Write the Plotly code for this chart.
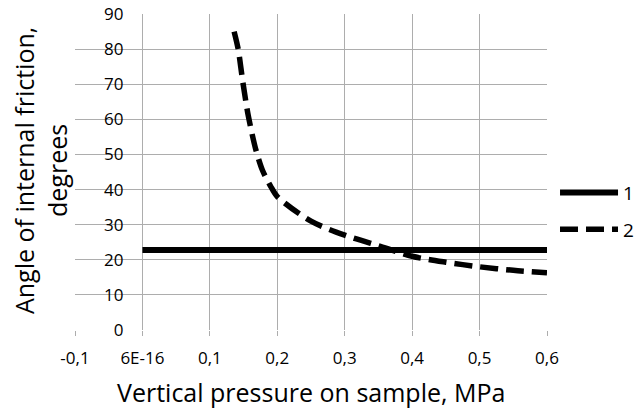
import plotly.graph_objects as go

# Series 1: constant angle
x1 = [0.0, 0.6]
y1 = [22.8, 22.8]

# Series 2: decreasing curve
x2 = [0.136, 0.142, 0.149, 0.157, 0.168, 0.178, 0.190, 0.200, 0.250, 0.300, 0.350, 0.400, 0.450, 0.500, 0.550, 0.600]
y2 = [85.0, 80.0, 70.5, 61.0, 51.5, 45.5, 41.0, 38.0, 31.0, 27.0, 24.0, 21.0, 19.3, 18.0, 17.0, 16.3]

xtick_vals = [-0.1, 0.0, 0.1, 0.2, 0.3, 0.4, 0.5, 0.6]
xtick_text = ["-0,1", "6E-16", "0,1", "0,2", "0,3", "0,4", "0,5", "0,6"]
ytick_vals = [0, 10, 20, 30, 40, 50, 60, 70, 80, 90]

FONT = "Open Sans"
GRID = "#adadad"

fig = go.Figure()
fig.add_trace(go.Scatter(x=x1, y=y1, mode="lines", name="1",
                         line=dict(color="black", width=6), legend="legend"))
fig.add_trace(go.Scatter(x=x2, y=y2, mode="lines", name="2",
                         line=dict(color="black", width=5.5, dash="18px,8px", shape="spline", smoothing=0.8),
                         legend="legend2"))

fig.update_layout(
    width=644, height=409,
    margin=dict(l=75, r=97, t=14, b=79, autoexpand=False),
    paper_bgcolor="white", plot_bgcolor="white",
    font=dict(family=FONT, color="black", size=17),
    xaxis=dict(range=[-0.1, 0.6], tickvals=xtick_vals, ticktext=xtick_text,
               showgrid=True, gridcolor=GRID, gridwidth=1, zeroline=False,
               showline=False, ticks="outside", ticklen=5, tickcolor=GRID,
               ticklabelstandoff=8, ticklabeloverflow="allow",
               automargin=False, tickfont=dict(size=17, family=FONT)),
    yaxis=dict(range=[0, 90], tickvals=ytick_vals, anchor="free", position=0.1/0.7,
               showgrid=True, gridcolor=GRID, gridwidth=1, zeroline=False,
               showline=False, ticks="", ticklabelstandoff=19, automargin=False,
               ticklabeloverflow="allow",
               tickfont=dict(size=17, family=FONT)),
    legend=dict(x=1.017, y=0.435, xanchor="left", yanchor="middle", itemwidth=58,
                font=dict(size=19, family=FONT), bgcolor="rgba(0,0,0,0)"),
    legend2=dict(x=1.017, y=0.318, xanchor="left", yanchor="middle", itemwidth=58,
                 font=dict(size=19, family=FONT), bgcolor="rgba(0,0,0,0)"),
    showlegend=True,
)

fig.add_annotation(text="Angle of internal friction,<br>degrees", textangle=-90,
                   xref="paper", yref="paper", x=(40-75)/473, y=(330-171)/316,
                   xanchor="center", yanchor="middle",
                   showarrow=False, font=dict(size=25, family=FONT))
fig.add_annotation(text="Vertical pressure on sample, MPa",
                   xref="paper", yref="paper", x=(311-75)/473, y=(330-392)/316,
                   xanchor="center", yanchor="middle",
                   showarrow=False, font=dict(size=25, family=FONT))

fig.write_html("out.html", config={"displayModeBar": False},
               post_script="document.body.style.margin='0px';document.body.style.overflow='hidden';")
